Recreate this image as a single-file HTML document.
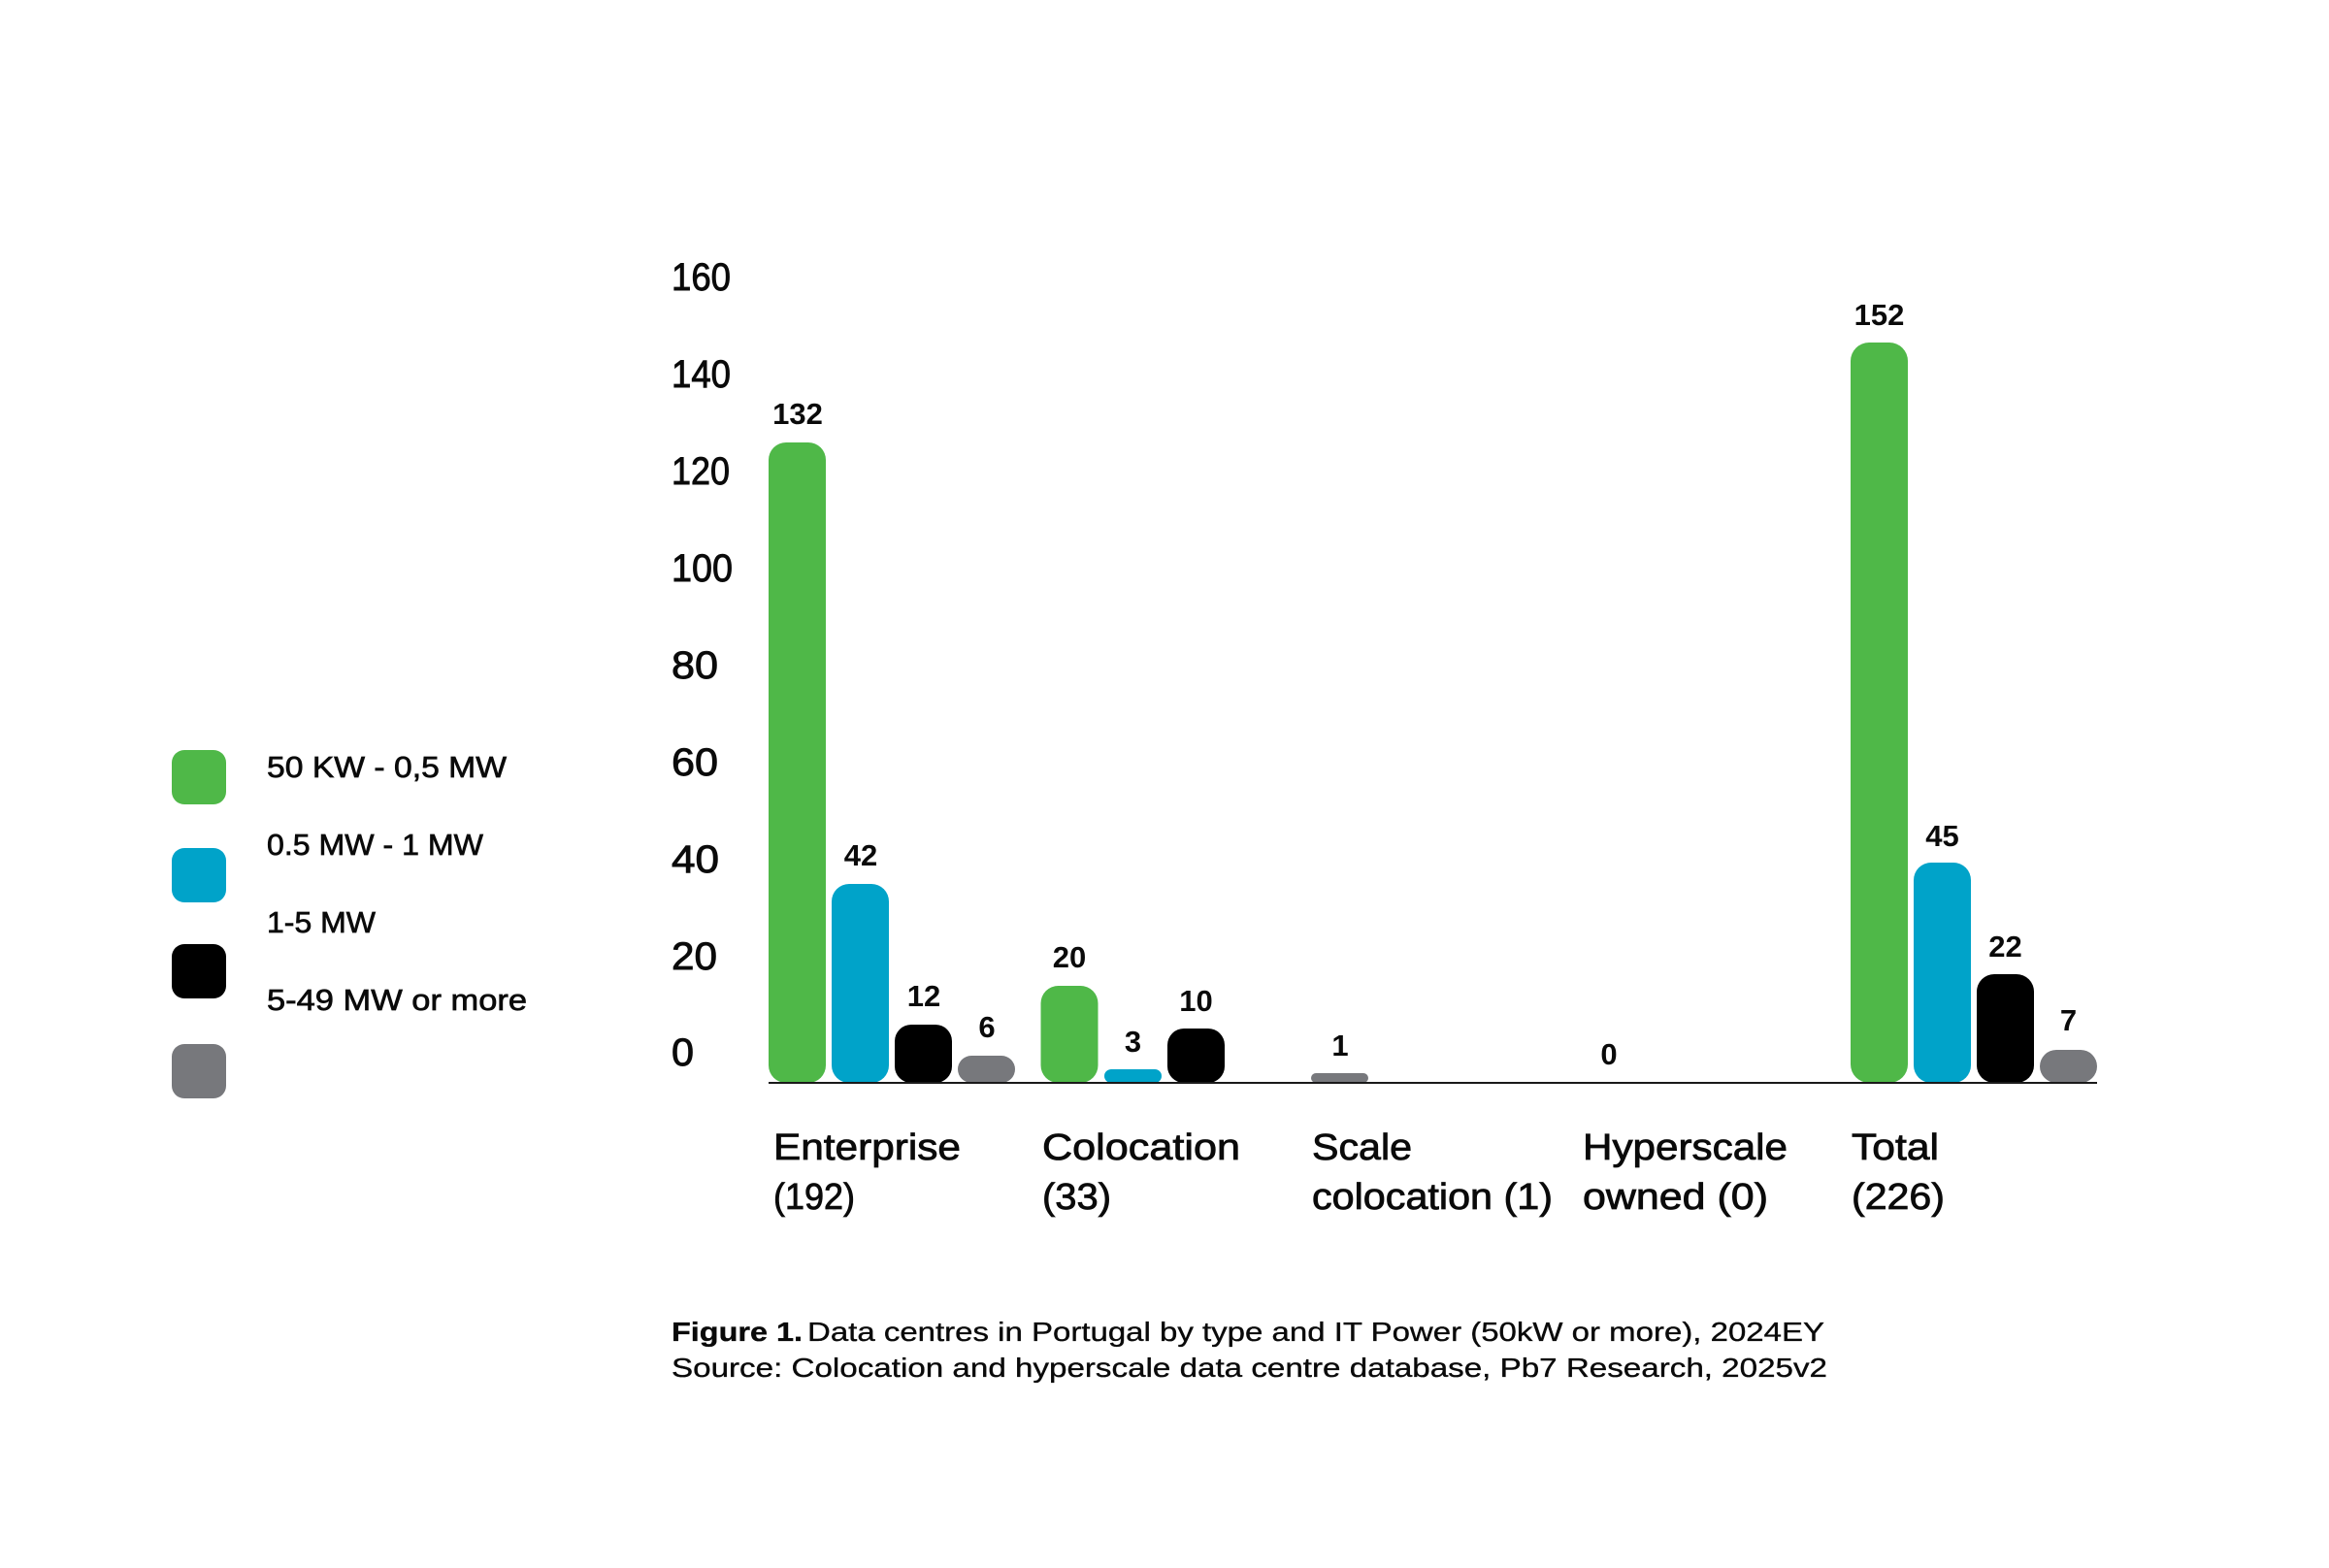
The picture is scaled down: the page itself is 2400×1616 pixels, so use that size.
<!DOCTYPE html>
<html>
<head>
<meta charset="utf-8">
<style>
  html, body { margin: 0; padding: 0; background: #ffffff; }
  body { width: 2400px; height: 1616px; overflow: hidden; }
  svg { display: block; }
  text { font-family: "Liberation Sans", Arial, sans-serif; fill: #0a0a0a; }
  .ytick { font-size: 40px; stroke: #0a0a0a; stroke-width: 0.9px; }
  .val { font-size: 31px; font-weight: bold; text-anchor: middle; }
  .cat { font-size: 38px; stroke: #0a0a0a; stroke-width: 0.8px; }
  .leg { font-size: 31px; stroke: #0a0a0a; stroke-width: 0.7px; }
  .cap { font-size: 28px; stroke: #0a0a0a; stroke-width: 0.35px; }
</style>
</head>
<body>
<svg width="2400" height="1616" viewBox="0 0 2400 1616" xmlns="http://www.w3.org/2000/svg">
  <rect x="0" y="0" width="2400" height="1616" fill="#ffffff"/>

  <!-- Legend squares -->
  <rect x="177" y="773" width="56" height="56" rx="13" fill="#4fb848"/>
  <rect x="177" y="874" width="56" height="56" rx="13" fill="#00a3c9"/>
  <rect x="177" y="973" width="56" height="56" rx="13" fill="#000000"/>
  <rect x="177" y="1076" width="56" height="56" rx="13" fill="#77787c"/>

  <!-- Legend text -->
  <text class="leg" x="275" y="801" textLength="247" lengthAdjust="spacingAndGlyphs">50 KW - 0,5 MW</text>
  <text class="leg" x="275" y="881" textLength="223" lengthAdjust="spacingAndGlyphs">0.5 MW - 1 MW</text>
  <text class="leg" x="275" y="961" textLength="112" lengthAdjust="spacingAndGlyphs">1-5 MW</text>
  <text class="leg" x="275" y="1041" textLength="268" lengthAdjust="spacingAndGlyphs">5-49 MW or more</text>

  <!-- Y axis labels -->
  <text class="ytick" x="692" y="299" textLength="61" lengthAdjust="spacingAndGlyphs">160</text>
  <text class="ytick" x="692" y="399" textLength="61" lengthAdjust="spacingAndGlyphs">140</text>
  <text class="ytick" x="692" y="499" textLength="60" lengthAdjust="spacingAndGlyphs">120</text>
  <text class="ytick" x="692" y="599" textLength="63" lengthAdjust="spacingAndGlyphs">100</text>
  <text class="ytick" x="692" y="699" textLength="48" lengthAdjust="spacingAndGlyphs">80</text>
  <text class="ytick" x="692" y="799" textLength="48" lengthAdjust="spacingAndGlyphs">60</text>
  <text class="ytick" x="692" y="899" textLength="49" lengthAdjust="spacingAndGlyphs">40</text>
  <text class="ytick" x="692" y="999" textLength="47" lengthAdjust="spacingAndGlyphs">20</text>
  <text class="ytick" x="692" y="1098" textLength="23" lengthAdjust="spacingAndGlyphs">0</text>

  <!-- Bars: Enterprise -->
  <rect x="792" y="456" width="59" height="660" rx="18" fill="#4fb848"/>
  <rect x="857" y="911" width="59" height="205" rx="18" fill="#00a3c9"/>
  <rect x="922" y="1056" width="59" height="60" rx="17" fill="#000000"/>
  <rect x="987" y="1088" width="59" height="28" rx="14" fill="#77787c"/>

  <!-- Bars: Colocation -->
  <rect x="1072.5" y="1016" width="59" height="100" rx="18" fill="#4fb848"/>
  <rect x="1138" y="1102" width="59" height="14" rx="7" fill="#00a3c9"/>
  <rect x="1203" y="1060" width="59" height="56" rx="17" fill="#000000"/>

  <!-- Bars: Scale colocation -->
  <rect x="1351" y="1106" width="59" height="10" rx="5" fill="#77787c"/>

  <!-- Bars: Total -->
  <rect x="1907" y="353" width="59" height="763" rx="19" fill="#4fb848"/>
  <rect x="1972" y="889" width="59" height="227" rx="18" fill="#00a3c9"/>
  <rect x="2037" y="1004" width="59" height="112" rx="18" fill="#000000"/>
  <rect x="2102" y="1082" width="59" height="34" rx="17" fill="#77787c"/>

  <!-- Axis line -->
  <rect x="792" y="1115" width="1369" height="2" fill="#1a1a1a"/>

  <!-- Value labels -->
  <text class="val" x="822" y="437">132</text>
  <text class="val" x="887" y="892">42</text>
  <text class="val" x="952" y="1037">12</text>
  <text class="val" x="1017" y="1069">6</text>

  <text class="val" x="1102" y="997">20</text>
  <text class="val" x="1167.5" y="1084">3</text>
  <text class="val" x="1232.5" y="1042">10</text>

  <text class="val" x="1381" y="1088">1</text>
  <text class="val" x="1658" y="1097">0</text>

  <text class="val" x="1936.5" y="335">152</text>
  <text class="val" x="2001.5" y="872">45</text>
  <text class="val" x="2066.5" y="986">22</text>
  <text class="val" x="2131.5" y="1062">7</text>

  <!-- Category labels -->
  <text class="cat" x="797" y="1195" textLength="193" lengthAdjust="spacingAndGlyphs">Enterprise</text>
  <text class="cat" x="797" y="1246" textLength="84" lengthAdjust="spacingAndGlyphs">(192)</text>

  <text class="cat" x="1074" y="1195" textLength="204" lengthAdjust="spacingAndGlyphs">Colocation</text>
  <text class="cat" x="1074" y="1246" textLength="71" lengthAdjust="spacingAndGlyphs">(33)</text>

  <text class="cat" x="1352" y="1195" textLength="103" lengthAdjust="spacingAndGlyphs">Scale</text>
  <text class="cat" x="1352" y="1246" textLength="248" lengthAdjust="spacingAndGlyphs">colocation (1)</text>

  <text class="cat" x="1631" y="1195" textLength="211" lengthAdjust="spacingAndGlyphs">Hyperscale</text>
  <text class="cat" x="1631" y="1246" textLength="191" lengthAdjust="spacingAndGlyphs">owned (0)</text>

  <text class="cat" x="1908" y="1195" textLength="90" lengthAdjust="spacingAndGlyphs">Total</text>
  <text class="cat" x="1908" y="1246" textLength="96" lengthAdjust="spacingAndGlyphs">(226)</text>

  <!-- Caption -->
  <text class="cap" x="692" y="1382" font-weight="bold" textLength="135" lengthAdjust="spacingAndGlyphs">Figure 1.</text>
  <text class="cap" x="832" y="1382" textLength="1048" lengthAdjust="spacingAndGlyphs">Data centres in Portugal by type and IT Power (50kW or more), 2024EY</text>
  <text class="cap" x="692" y="1419" textLength="1191" lengthAdjust="spacingAndGlyphs">Source: Colocation and hyperscale data centre database, Pb7 Research, 2025v2</text>
</svg>
</body>
</html>
